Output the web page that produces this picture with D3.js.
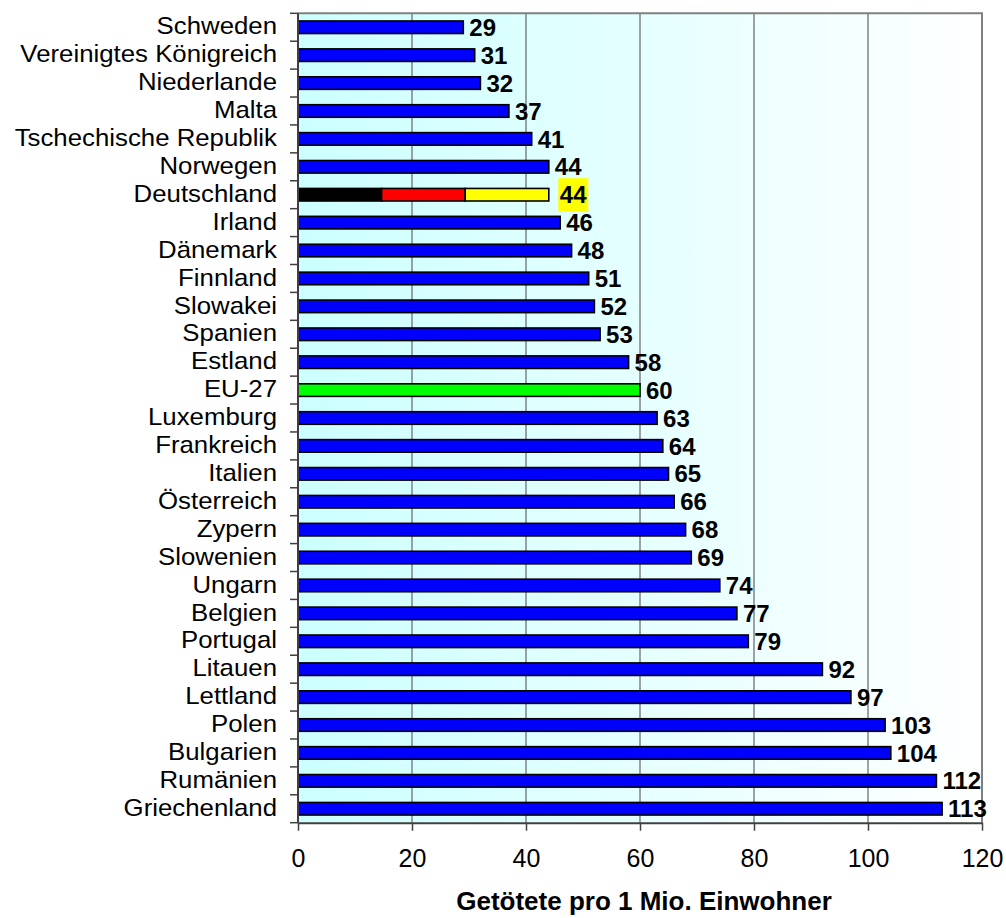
<!DOCTYPE html>
<html>
<head>
<meta charset="utf-8">
<script src="https://cdn.jsdelivr.net/npm/d3@7"></script>
<style>
  html, body { margin: 0; padding: 0; background: #ffffff; }
  svg { display: block; }
  text { font-family: "Liberation Sans", Arial, sans-serif; fill: #000; }
</style>
</head>
<body>
<svg id="chart" width="1006" height="918"></svg>
<script>
// Verkehrstote pro 1 Mio. Einwohner, sortiert aufsteigend
const categories = [
  "Schweden", "Vereinigtes Königreich", "Niederlande", "Malta",
  "Tschechische Republik", "Norwegen", "Deutschland", "Irland",
  "Dänemark", "Finnland", "Slowakei", "Spanien", "Estland", "EU-27",
  "Luxemburg", "Frankreich", "Italien", "Österreich", "Zypern",
  "Slowenien", "Ungarn", "Belgien", "Portugal", "Litauen", "Lettland",
  "Polen", "Bulgarien", "Rumänien", "Griechenland"
];
const values = [
  29, 31, 32, 37, 41, 44, 44, 46, 48, 51, 52, 53, 58, 60,
  63, 64, 65, 66, 68, 69, 74, 77, 79, 92, 97, 103, 104, 112, 113
];
const xTicks = [0, 20, 40, 60, 80, 100, 120];
const axisTitle = "Getötete pro 1 Mio. Einwohner";

const svg = d3.select("#chart");
const plot = { left: 298, right: 982, top: 13.3, bottom: 822.7 };

const x = d3.scaleLinear().domain([0, 120]).range([plot.left, plot.right]);
const y = d3.scaleBand().domain(categories).range([plot.top, plot.bottom]).padding(0);
const step = y.step();
const barH = step * 0.45;

// Hintergrund mit Farbverlauf
const defs = svg.append("defs");
const grad = defs.append("linearGradient").attr("id", "bg")
  .attr("x1", "0").attr("y1", "0").attr("x2", "1").attr("y2", "0");
grad.append("stop").attr("offset", "0").attr("stop-color", "#ccffff");
grad.append("stop").attr("offset", "1").attr("stop-color", "#ffffff");

svg.append("rect")
  .attr("x", plot.left).attr("y", plot.top)
  .attr("width", plot.right - plot.left).attr("height", plot.bottom - plot.top)
  .attr("fill", "url(#bg)");

// Gitternetzlinien
svg.append("g").selectAll("line")
  .data(xTicks.filter(t => t > 0 && t < 120))
  .join("line")
  .attr("x1", d => x(d)).attr("x2", d => x(d))
  .attr("y1", plot.top).attr("y2", plot.bottom)
  .attr("stroke", "#707070").attr("stroke-width", 1.3);

// Rahmen oben und rechts
svg.append("path")
  .attr("d", `M${plot.left},${plot.top}H${plot.right}V${plot.bottom}`)
  .attr("fill", "none").attr("stroke", "#808080").attr("stroke-width", 2);

// Balken
const bars = svg.append("g");
categories.forEach((c, i) => {
  const v = values[i];
  const by = y(c) + (step - barH) / 2;
  if (c === "Deutschland") {
    const cols = ["#000000", "#ff0000", "#ffff00"];
    cols.forEach((col, k) => {
      bars.append("rect")
        .attr("x", x(v * k / 3)).attr("y", by)
        .attr("width", x(v * (k + 1) / 3) - x(v * k / 3)).attr("height", barH)
        .attr("fill", col).attr("stroke", "#000").attr("stroke-width", 1.6);
    });
  } else {
    bars.append("rect")
      .attr("x", x(0)).attr("y", by)
      .attr("width", x(v) - x(0)).attr("height", barH)
      .attr("fill", c === "EU-27" ? "#00ff00" : "#0000ff")
      .attr("stroke", "#000").attr("stroke-width", 1.6);
  }
});

// Wertbeschriftungen
const labels = svg.append("g");
categories.forEach((c, i) => {
  const v = values[i];
  const cy = y(c) + step / 2;
  const lx = x(v) + (c === "Deutschland" ? 11 : 6);
  if (c === "Deutschland") {
    labels.append("rect")
      .attr("x", lx - 1.5).attr("y", cy - 16.5)
      .attr("width", 30).attr("height", 33)
      .attr("fill", "#ffff00");
  }
  labels.append("text")
    .attr("x", lx).attr("y", cy).attr("dy", "0.36em")
    .attr("font-size", 24).attr("font-weight", "bold")
    .text(v);
});

// Kategorienachse links
const yAxis = svg.append("g");
yAxis.append("line")
  .attr("x1", plot.left).attr("x2", plot.left)
  .attr("y1", plot.top).attr("y2", plot.bottom)
  .attr("stroke", "#404040").attr("stroke-width", 2);
const bounds = categories.map(c => y(c)).concat([plot.bottom]);
yAxis.selectAll("line.tick").data(bounds).join("line")
  .attr("class", "tick")
  .attr("x1", plot.left - 8).attr("x2", plot.left)
  .attr("y1", d => d).attr("y2", d => d)
  .attr("stroke", "#404040").attr("stroke-width", 1.5);
yAxis.selectAll("text").data(categories).join("text")
  .attr("transform", d => `translate(277,${y(d) + step / 2}) scale(1.075,1)`)
  .attr("dy", "0.3em")
  .attr("text-anchor", "end").attr("font-size", 24)
  .text(d => d);

// Werteachse unten
const xAxis = svg.append("g")
  .attr("transform", `translate(0,${plot.bottom})`)
  .call(d3.axisBottom(x).tickValues(xTicks).tickSize(8).tickPadding(19).tickSizeOuter(0));
xAxis.select(".domain").attr("stroke", "#404040").attr("stroke-width", 2);
xAxis.selectAll(".tick line").attr("stroke", "#404040").attr("stroke-width", 1.5);
xAxis.selectAll(".tick text")
  .attr("font-size", 25)
  .attr("font-family", "Liberation Sans, Arial, sans-serif")
  .attr("fill", "#000");

// Achsentitel
svg.append("text")
  .attr("x", (plot.left + plot.right) / 2 + 4).attr("y", 910)
  .attr("text-anchor", "middle").attr("font-size", 26).attr("font-weight", "bold")
  .text(axisTitle);
</script>
</body>
</html>
